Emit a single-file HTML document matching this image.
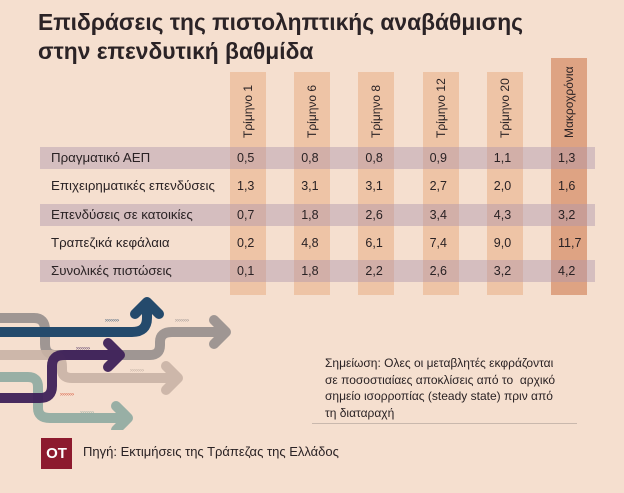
<!DOCTYPE html>
<html><head><meta charset="utf-8"><style>
body{margin:0}
#c{position:relative;width:624px;height:493px;background:#f5dfcf;overflow:hidden;font-family:"Liberation Sans","DejaVu Sans",sans-serif;color:#2a2224}
.t{position:absolute;white-space:nowrap}
</style></head><body>
<div id="c">
<div class="t" style="left:38px;top:8px;font-size:22.8px;font-weight:bold;line-height:29px;color:#2b2326">Επιδράσεις της πιστοληπτικής αναβάθμισης<br>στην επενδυτική βαθμίδα</div>
<svg id="arrows" width="260" height="140" style="position:absolute;left:0;top:290px" fill="none" stroke-linecap="round" stroke-linejoin="round">
<path d="M0 28 H34 Q45 28 45 40 V54 Q45 65 56 65 H150 Q160 65 160 55 V52 Q160 42 172 42 H226 M214 30 L226 42 L214 54" stroke="#8f8a88" stroke-width="10" opacity="0.85"/>
<path d="M0 65 H52 Q62 65 62 77 V80 Q62 88 72 88 H178 M166 76 L178 88 L166 100" stroke="#c9b3a5" stroke-width="10" opacity="0.9"/>
<path d="M0 42 H132 Q147 42 147 28 V12 M135 24 L147 12 L159 24" stroke="#244a6c" stroke-width="10"/>
<path d="M0 87 H28 Q38 87 38 97 V118 Q38 128 50 128 H128 M116 116 L128 128 L116 140" stroke="#8eaaa0" stroke-width="10" opacity="0.9"/>
<path d="M0 108 H40 Q52 108 52 96 V76 Q52 65 64 65 H120 M108 53 L120 65 L108 77" stroke="#3e2159" stroke-width="10" opacity="0.95"/>
<text x="105" y="32" font-size="6" fill="#244a6c">›››››››</text>
<text x="175" y="32" font-size="6" fill="#8f8a88">›››››››</text>
<text x="76" y="60" font-size="6" fill="#3e2159">›››››››</text>
<text x="130" y="82" font-size="6" fill="#b8a79c">›››››››</text>
<text x="60" y="106" font-size="6" fill="#d4482c">›››››››</text>
<text x="80" y="124" font-size="6" fill="#8eaaa0">›››››››</text>
</svg>
<div class="t" style="left:325px;top:355px;font-size:12px;line-height:16.5px;color:#2a2224">Σημείωση: Ολες οι μεταβλητές εκφράζονται<br>σε ποσοστιαίαες αποκλίσεις από το&nbsp; αρχικό<br>σημείο ισορροπίας (steady state) πριν από<br>τη διαταραχή</div>
<div class="t" style="left:312px;top:423px;width:265px;height:1px;background:#c9b8ad"></div>
<div class="t" style="left:41px;top:438px;width:31px;height:31px;background:#8d1a2e;color:#fff;font-weight:bold;font-size:15px;line-height:31px;text-align:center">OT</div>
<div class="t" style="left:83px;top:444px;font-size:13px">Πηγή: Εκτιμήσεις της Τράπεζας της Ελλάδος</div>
</div>
<script>
const columns=["Τρίμηνο 1","Τρίμηνο 6","Τρίμηνο 8","Τρίμηνο 12","Τρίμηνο 20","Μακροχρόνια"];
const rowLabels=["Πραγματικό ΑΕΠ","Επιχειρηματικές επενδύσεις","Επενδύσεις σε κατοικίες","Τραπεζικά κεφάλαια","Συνολικές πιστώσεις"];
const q1=[0.5,1.3,0.7,0.2,0.1];
const q6=[0.8,3.1,1.8,4.8,1.8];
const q8=[0.8,3.1,2.6,6.1,2.2];
const q12=[0.9,2.7,3.4,7.4,2.6];
const q20=[1.1,2.0,4.3,9.0,3.2];
const longRun=[1.3,1.6,3.2,11.7,4.2];
const series=[q1,q6,q8,q12,q20,longRun];
const c=document.getElementById('c');
const colX=i=>230+i*64.2;
const rowY=j=>147+j*28.3;
function mk(style,text){const d=document.createElement('div');d.className='t';d.style.cssText=style;if(text!==undefined)d.textContent=text;c.insertBefore(d,document.getElementById('arrows'));return d;}
columns.forEach((name,i)=>{
 const isLong=i===columns.length-1;
 const top=isLong?58:72;
 const b=mk(`left:${colX(i)}px;top:${top}px;width:36px;height:${295-top}px;background:${isLong?'#dea383':'#eec4a6'}`);
 
 
 const h=mk(`left:${colX(i)+18}px;top:138px;font-size:12px;transform:rotate(-90deg);transform-origin:0 0;margin-left:-7px`,name);
 
 
});
rowLabels.forEach((lab,j)=>{
 if(j%2===0){
  const r=mk(`left:40px;top:${rowY(j)}px;width:555px;height:22px;background:rgba(175,150,170,0.45)`);
  
  
 }
 const l=mk(`left:51px;top:${rowY(j)+3}px;font-size:13.3px`,lab);
 
 
 series.forEach((s,i)=>{
  const v=mk(`left:${colX(i)+7}px;top:${rowY(j)+4}px;font-size:12.5px`,s[j].toFixed(1).replace('.',','));
  
  
 });
});
</script>
</body></html>
